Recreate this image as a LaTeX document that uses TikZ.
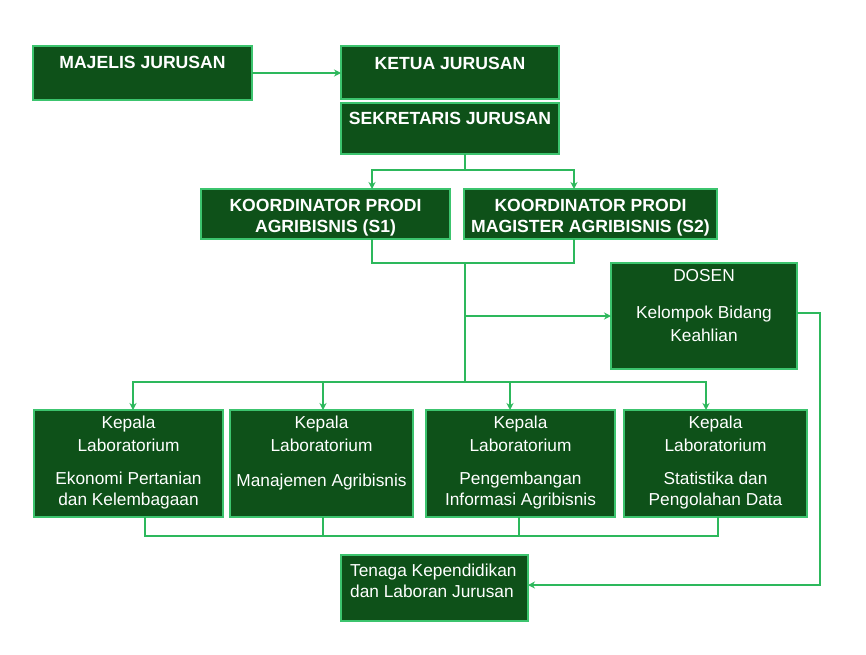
\documentclass[tikz,border=0pt]{standalone}
\usepackage{fontspec}
\setmainfont{Liberation Sans}
\usetikzlibrary{arrows.meta,positioning}
\definecolor{boxgreen}{HTML}{0E5119}
\definecolor{edgegreen}{HTML}{3CC46E}
\definecolor{linegreen}{HTML}{2DB85C}

\begin{document}
\begin{tikzpicture}[x=1pt,y=-1pt,
  unit/.style={draw=edgegreen,fill=boxgreen,line width=1.4pt,inner sep=0pt,outer sep=0pt},
  head/.style={text=white,font=\fontsize{17.6}{21}\selectfont\bfseries,inner sep=0pt,align=center},
  body/.style={text=white,font=\fontsize{17.3}{21}\selectfont,inner sep=0pt,align=center},
  link/.style={linegreen,line width=1.7pt},
  arrow/.style={link,-{Stealth[length=7pt,width=7pt]}}
]
\fill[white] (0,0) rectangle (866,654);
\useasboundingbox (0,0) rectangle (866,654);

\node[unit,minimum width=219pt,minimum height=54pt] (majelis) at (142.5,73) {};
\node[unit,minimum width=218pt,minimum height=53pt] (ketua) at (450,72.5) {};
\node[unit,minimum width=218pt,minimum height=51pt,below=4pt of ketua] (sekretaris) {};
\node[unit,minimum width=249pt,minimum height=50pt] (koord1) at (325.5,214) {};
\node[unit,minimum width=253pt,minimum height=50pt] (koord2) at (590.5,214) {};
\node[unit,minimum width=186pt,minimum height=106pt] (dosen) at (704,316) {};
\node[unit,minimum width=189pt,minimum height=107pt] (lab1) at (128.5,463.5) {};
\node[unit,minimum width=183pt,minimum height=107pt] (lab2) at (321.5,463.5) {};
\node[unit,minimum width=189pt,minimum height=107pt] (lab3) at (520.5,463.5) {};
\node[unit,minimum width=183pt,minimum height=107pt] (lab4) at (715.5,463.5) {};
\node[unit,minimum width=187pt,minimum height=66pt] (tenaga) at (434.5,588) {};

\node[head,below=10pt of majelis.north] (majelis-t) {MAJELIS JURUSAN};
\node[head,below=11pt of ketua.north] (ketua-t) {KETUA JURUSAN};
\node[head,below=9pt of sekretaris.north] (sekretaris-t) {SEKRETARIS JURUSAN};
\node[head,below=10pt of koord1.north] (koord1-t) {KOORDINATOR PRODI\\AGRIBISNIS (S1)};
\node[head,below=10pt of koord2.north] (koord2-t) {KOORDINATOR PRODI\\MAGISTER AGRIBISNIS (S2)};
\node[body,below=6pt of dosen.north] (dosen-t) {DOSEN\\[16pt]Kelompok Bidang\\[2pt]Keahlian};
\node[body,below=6pt of lab1.north] (lab1-t) {Kepala\\[2pt]Laboratorium\\[12pt]Ekonomi Pertanian\\dan Kelembagaan};
\node[body,below=6pt of lab2.north] (lab2-t) {Kepala\\[2pt]Laboratorium\\[14pt]Manajemen Agribisnis};
\node[body,below=6pt of lab3.north] (lab3-t) {Kepala\\[2pt]Laboratorium\\[12pt]Pengembangan\\Informasi Agribisnis};
\node[body,below=6pt of lab4.north] (lab4-t) {Kepala\\[2pt]Laboratorium\\[12pt]Statistika dan\\Pengolahan Data};
\node[body,align=left,below right=9pt and 9pt of tenaga.north west] (tenaga-t) {Tenaga Kependidikan\\dan Laboran Jurusan};

\coordinate (fork1) at (465,170);
\coordinate (join1) at (465,263);
\coordinate (fork2) at (465,382);

\draw[arrow] (majelis.east) -- (majelis.east -| ketua.west);
\draw[link] ([xshift=15pt]sekretaris.south) -- (fork1);
\draw[arrow] (fork1) -| ([xshift=46.5pt]koord1.north);
\draw[arrow] (fork1) -| ([xshift=-16.5pt]koord2.north);
\draw[link] ([xshift=46.5pt]koord1.south) |- (join1);
\draw[link] ([xshift=-16.5pt]koord2.south) |- (join1);
\draw[link] (join1) -- (fork2);
\draw[arrow] (join1 |- dosen.west) -- (dosen.west);
\draw[arrow] (fork2) -| ([xshift=4.5pt]lab1.north);
\draw[arrow] (fork2) -| ([xshift=1.5pt]lab2.north);
\draw[arrow] (fork2) -| ([xshift=-10.5pt]lab3.north);
\draw[arrow] (fork2) -| ([xshift=-9.5pt]lab4.north);
\draw[link] ([xshift=16.5pt]lab1.south) -- ++(0,19) -| ([xshift=2.5pt]lab4.south);
\draw[link] ([xshift=1.5pt]lab2.south) -- ++(0,19);
\draw[link] ([xshift=-1.5pt]lab3.south) -- ++(0,19);
\draw[arrow] ([yshift=3pt]dosen.east) -- ++(23,0) |- ([yshift=3pt]tenaga.east);
\end{tikzpicture}
\end{document}
